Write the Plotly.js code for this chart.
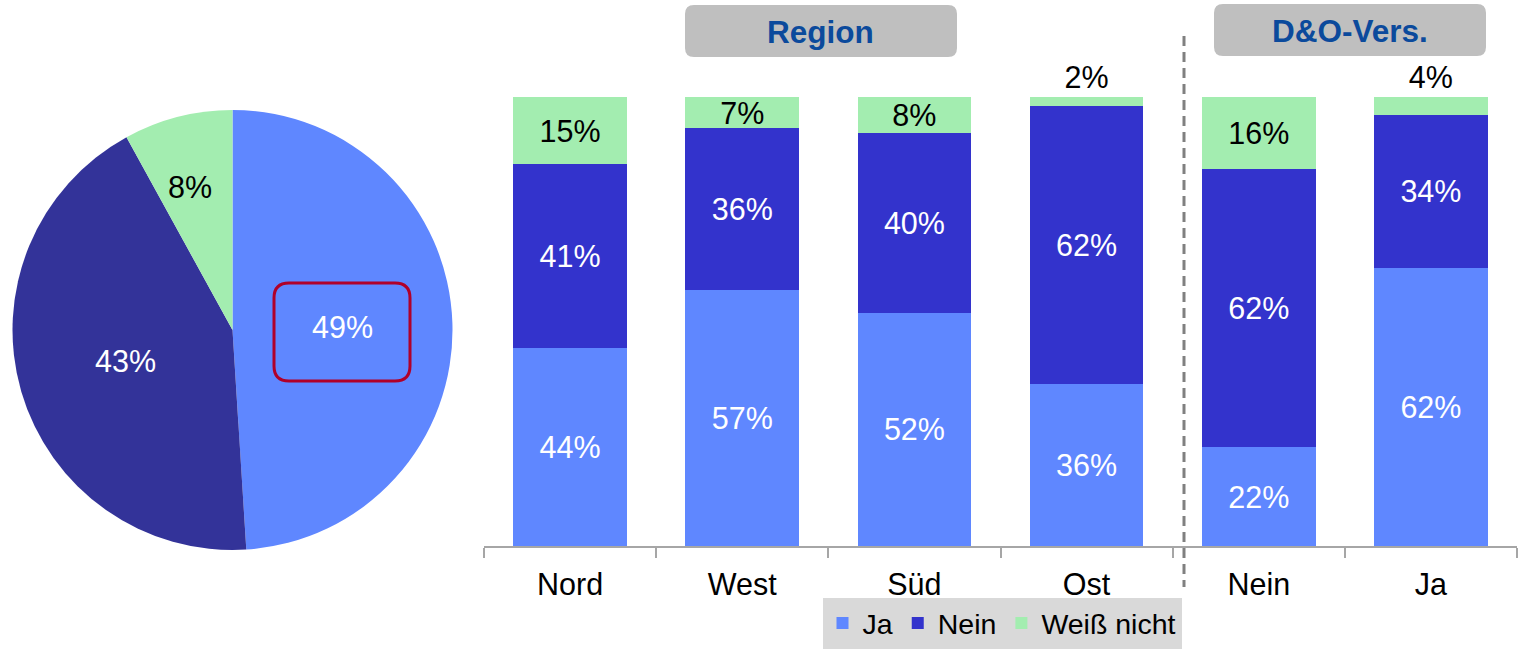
<!DOCTYPE html>
<html>
<head>
<meta charset="utf-8">
<script src="https://cdn.plot.ly/plotly-3.0.1.min.js"></script>
<style>html,body{margin:0;padding:0;background:#fff;}#chart{width:1518px;height:649px;}</style>
</head>
<body>
<div id="chart"></div>
<script>
// ---- data ----
const pieLabels = ['Ja', 'Nein', 'Weiß nicht'];
const pieValues = [49, 43, 8];

const categories = ['Nord', 'West', 'Süd', 'Ost', 'Nein', 'Ja'];
const jaValues = [44, 57, 52, 36, 22, 62];
const neinValues = [41, 36, 40, 62, 62, 34];
const weissValues = [15, 7, 8, 2, 16, 4];

const seriesNames = ['Ja', 'Nein', 'Weiß nicht'];
const groupTitles = ['Region', 'D&O-Vers.'];

// ---- styling ----
const W = 1518, H = 649;
const FONT = 'Liberation Sans, Arial, sans-serif';
const C_JA = '#5f87ff', C_NEIN = '#3333cc', C_WEISS = '#a3edb0', C_PIE_NEIN = '#333399';

function px(x) { return x / W; }
function py(y) { return 1 - y / H; }
function rrect(x0, y0, x1, y1, r) {
  const P = (x, y) => px(x) + ',' + py(y);
  return 'M' + P(x0 + r, y0) + ' L' + P(x1 - r, y0) + ' Q' + P(x1, y0) + ' ' + P(x1, y0 + r) +
    ' L' + P(x1, y1 - r) + ' Q' + P(x1, y1) + ' ' + P(x1 - r, y1) +
    ' L' + P(x0 + r, y1) + ' Q' + P(x0, y1) + ' ' + P(x0, y1 - r) +
    ' L' + P(x0, y0 + r) + ' Q' + P(x0, y0) + ' ' + P(x0 + r, y0) + ' Z';
}

const labelSize = 30.5;

// pie geometry (pixels)
const PIE_CX = 232.5, PIE_CY = 330, PIE_R = 220;

// small pie slice labels are placed further in than Plotly's default; compute from the data
const pieTotal = pieValues.reduce((a, b) => a + b, 0);
const pieSmall = pieValues.map(v => v / pieTotal < 0.12);
const pieAnnotations = [];
let cum = 0;
pieValues.forEach((v, i) => {
  const mid = (cum + v / 2) / pieTotal * 2 * Math.PI; // clockwise from 12 o'clock
  cum += v;
  if (pieSmall[i]) {
    const r = PIE_R * 0.68;
    pieAnnotations.push({
      xref: 'paper', yref: 'paper',
      x: px(PIE_CX + r * Math.sin(mid) - 5), y: py(PIE_CY - r * Math.cos(mid) + 2),
      text: v + '%', showarrow: false, xanchor: 'center', yanchor: 'middle',
      font: { family: FONT, size: labelSize, color: '#000000' }
    });
  }
});

const pie = {
  type: 'pie',
  labels: pieLabels,
  values: pieValues,
  sort: false,
  direction: 'clockwise',
  rotation: 0,
  marker: { colors: [C_JA, C_PIE_NEIN, C_WEISS], line: { width: 0 } },
  texttemplate: pieSmall.map(s => s ? ' ' : '%{value}%'),
  textposition: 'inside',
  insidetextorientation: 'horizontal',
  textfont: { family: FONT, size: labelSize, color: ['#ffffff', '#ffffff', '#000000'] },
  hoverinfo: 'label+percent',
  showlegend: false,
  domain: { x: [px(PIE_CX - PIE_R), px(PIE_CX + PIE_R)], y: [py(PIE_CY + PIE_R), py(PIE_CY - PIE_R)] }
};

function barTrace(name, vals, color, textColor, positions) {
  return {
    type: 'bar',
    name: name,
    x: categories,
    y: vals,
    marker: { color: color, line: { width: 0 } },
    texttemplate: '%{y}%',
    textposition: positions || 'inside',
    insidetextanchor: 'middle',
    constraintext: 'none',
    cliponaxis: false,
    textfont: { family: FONT, size: labelSize, color: textColor },
    outsidetextfont: { family: FONT, size: labelSize, color: '#000000' },
    insidetextfont: { family: FONT, size: labelSize, color: textColor },
    hovertemplate: name + ': %{y}%<extra></extra>'
  };
}

const traces = [
  pie,
  barTrace(seriesNames[0], jaValues, C_JA, '#ffffff'),
  barTrace(seriesNames[1], neinValues, C_NEIN, '#ffffff'),
  barTrace(seriesNames[2], weissValues, C_WEISS, '#000000',
    weissValues.map(v => v < 5 ? 'outside' : 'inside'))
];

const layout = {
  width: W, height: H,
  margin: { l: 0, r: 0, t: 0, b: 0 },
  paper_bgcolor: '#ffffff',
  plot_bgcolor: 'rgba(0,0,0,0)',
  font: { family: FONT, color: '#000000' },
  barmode: 'stack',
  bargap: 0.34,
  xaxis: {
    domain: [px(484), px(1517)],
    type: 'category',
    showline: true, linecolor: '#a6a6a6', linewidth: 1.5,
    ticks: 'outside', ticklen: 10, tickcolor: '#a6a6a6', tickwidth: 1.5,
    tickson: 'boundaries',
    ticklabelstandoff: 11,
    showgrid: false, zeroline: false,
    tickfont: { family: FONT, size: labelSize, color: '#000000' },
    fixedrange: true
  },
  yaxis: {
    domain: [py(546), py(97)],
    range: [0, 100],
    visible: false,
    fixedrange: true
  },
  legend: {
    orientation: 'h',
    x: px(1002), xanchor: 'center',
    y: 0, yanchor: 'bottom',
    bgcolor: '#d9d9d9',
    font: { family: FONT, size: 28.5, color: '#000000' },
    traceorder: 'normal',
    itemclick: false, itemdoubleclick: false
  },
  shapes: [
    { type: 'path', xref: 'paper', yref: 'paper', path: rrect(685, 5, 957, 57, 9),
      fillcolor: '#bfbfbf', line: { width: 0 }, layer: 'below' },
    { type: 'path', xref: 'paper', yref: 'paper', path: rrect(1214, 4, 1486, 56, 9),
      fillcolor: '#bfbfbf', line: { width: 0 }, layer: 'below' },
    { type: 'line', xref: 'paper', yref: 'paper', x0: px(1184), x1: px(1184), y0: py(36), y1: py(587),
      line: { color: '#808080', width: 3, dash: '10px,6px' } },
    { type: 'path', xref: 'paper', yref: 'paper', path: rrect(274, 283, 410, 381, 15),
      fillcolor: 'rgba(0,0,0,0)', line: { color: '#b0002a', width: 3 } }
  ],
  annotations: [
    { xref: 'paper', yref: 'paper', x: px(821), y: py(32), text: '<b>' + groupTitles[0] + '</b>',
      showarrow: false, xanchor: 'center', yanchor: 'middle',
      font: { family: FONT, size: 31.5, color: '#0b4a9c' } },
    { xref: 'paper', yref: 'paper', x: px(1350), y: py(31), text: '<b>' + groupTitles[1] + '</b>',
      showarrow: false, xanchor: 'center', yanchor: 'middle',
      font: { family: FONT, size: 31.5, color: '#0b4a9c' } }
  ].concat(pieAnnotations)
};

Plotly.newPlot('chart', traces, layout, { displayModeBar: false, staticPlot: false });
</script>
</body>
</html>
